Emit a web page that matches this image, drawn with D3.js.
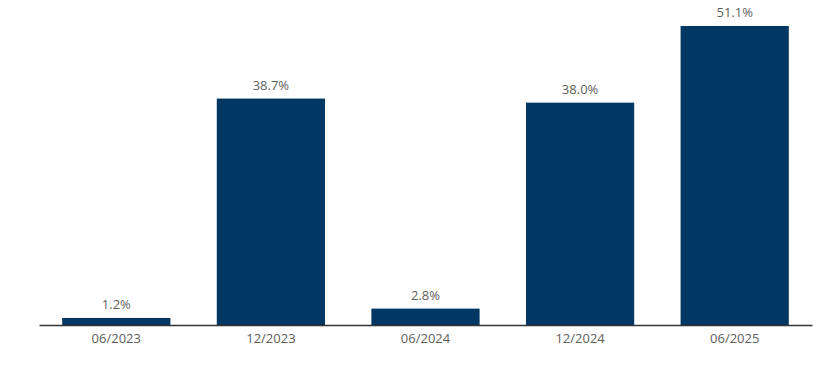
<!DOCTYPE html>
<html><head><meta charset="utf-8">
<script src="https://cdn.jsdelivr.net/npm/d3@7"></script>
<style>body{margin:0;background:#fff}svg{display:block}text{font-family:"Open Sans",sans-serif}</style>
</head><body><svg id="c" width="823" height="368"></svg>
<script>
const categories = ["06/2023","12/2023","06/2024","12/2024","06/2025"];
const values = [1.2, 38.7, 2.8, 38.0, 51.1];
const labels = ["1.2%","38.7%","2.8%","38.0%","51.1%"];

const svg = d3.select("#c");
const left = 39, right = 812, base = 325;
const x = d3.scaleBand().domain(categories).range([left, right]).paddingInner(0.3).paddingOuter(0.15);
const y = d3.scaleLinear().domain([0, 51.1]).range([base, 26]);

svg.selectAll("rect.bar").data(values).join("rect").attr("class","bar")
  .attr("x",(d,i)=>x(categories[i])).attr("width",x.bandwidth())
  .attr("y",d=>y(d)).attr("height",d=>base-y(d)).attr("fill","#003863");

svg.selectAll("text.val").data(values).join("text").attr("class","val")
  .attr("x",(d,i)=>x(categories[i])+x.bandwidth()/2).attr("y",d=>y(d)-9)
  .attr("text-anchor","middle").attr("font-size",13).attr("fill","#605e5c")
  .text((d,i)=>labels[i]);

const ax = svg.append("g").attr("transform",`translate(0,${base})`).call(d3.axisBottom(x).tickSize(0).tickPadding(9));
ax.select(".domain").attr("stroke","#333").attr("stroke-width",1.3);
ax.selectAll("text").attr("font-size",13).attr("fill","#605e5c").attr("font-family","Open Sans, sans-serif");
</script></body></html>
